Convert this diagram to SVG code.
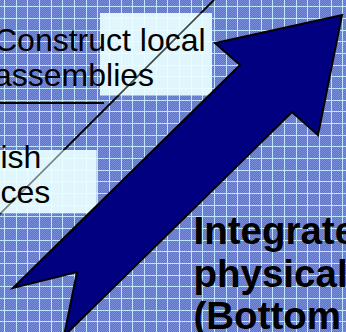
<svg xmlns="http://www.w3.org/2000/svg" width="346" height="332" viewBox="0 0 346 332">
  <style>
    .grid { fill: none; stroke: #bfe6ff; stroke-width: 1; }
    .box { fill: #e8ffff; fill-opacity: 0.93; }
    .txt { font-family: "Liberation Sans", Arial, sans-serif; font-size: 32px; fill: #000; }
    .big { font-family: "Liberation Sans", Arial, sans-serif; font-size: 38.5px; font-weight: bold; fill: #000; }
    .ln { stroke: #000; fill: none; }
  </style>
  <defs>
    <pattern id="dither" width="2" height="2" patternUnits="userSpaceOnUse">
      <rect width="2" height="2" fill="#5f73c9"/>
      <rect width="1" height="1" fill="#7a8dda"/>
      <rect x="1" y="1" width="1" height="1" fill="#7a8dda"/>
    </pattern>
  </defs>

  <g id="background">
    <rect width="346" height="332" fill="url(#dither)"/>
    <path class="grid" d="M4.5 0V332M16.5 0V332M27.5 0V332M39.5 0V332M51.5 0V332M62.5 0V332M74.5 0V332M86.5 0V332M97.5 0V332M109.5 0V332M121.5 0V332M132.5 0V332M144.5 0V332M156.5 0V332M167.5 0V332M179.5 0V332M191.5 0V332M202.5 0V332M214.5 0V332M226.5 0V332M237.5 0V332M249.5 0V332M261.5 0V332M272.5 0V332M284.5 0V332M296.5 0V332M307.5 0V332M319.5 0V332M331.5 0V332M342.5 0V332"/>
    <path class="grid" d="M0 6.5H346M0 18.5H346M0 30.5H346M0 41.5H346M0 53.5H346M0 65.5H346M0 76.5H346M0 88.5H346M0 100.5H346M0 111.5H346M0 123.5H346M0 135.5H346M0 146.5H346M0 158.5H346M0 170.5H346M0 181.5H346M0 193.5H346M0 205.5H346M0 216.5H346M0 228.5H346M0 240.5H346M0 251.5H346M0 263.5H346M0 275.5H346M0 286.5H346M0 298.5H346M0 310.5H346M0 321.5H346"/>
  </g>

  <g id="connectors">
    <line class="ln" x1="214" y1="0" x2="0" y2="214" stroke-width="1.6"/>
    <line class="ln" x1="0" y1="103" x2="104" y2="103" stroke-width="2" stroke="#0a0a2a"/>
  </g>

  <g id="node-construct">
    <rect class="box" x="100" y="13" width="112" height="82.5"/>
    <line class="ln" x1="214" y1="0" x2="0" y2="214" stroke-width="1.6" stroke-opacity="0.45"/>
    <text class="txt" x="-6" y="51">Construct local</text>
    <text class="txt" x="-6" y="86">assemblies</text>
  </g>

  <g id="node-establish">
    <rect class="box" x="0" y="150" width="96.7" height="63.3"/>
    <line class="ln" x1="214" y1="0" x2="0" y2="214" stroke-width="1.6" stroke-opacity="0.45"/>
    <text class="txt" x="0.5" y="167.5">ish</text>
    <text class="txt" x="0.5" y="203">ces</text>
  </g>

  <g id="node-arrow">
    <polygon points="13,288 240,65 215,43 342,15 318,135 292,112 64,336 77,272" fill="#000080" stroke="#000" stroke-width="2" stroke-linejoin="miter"/>
  </g>

  <g id="node-integrate">
    <text class="big" x="193.5" y="244">Integrate</text>
    <text class="big" x="193.5" y="286.5">physical</text>
    <text class="big" x="193.5" y="329">(Bottom</text>
  </g>
</svg>
